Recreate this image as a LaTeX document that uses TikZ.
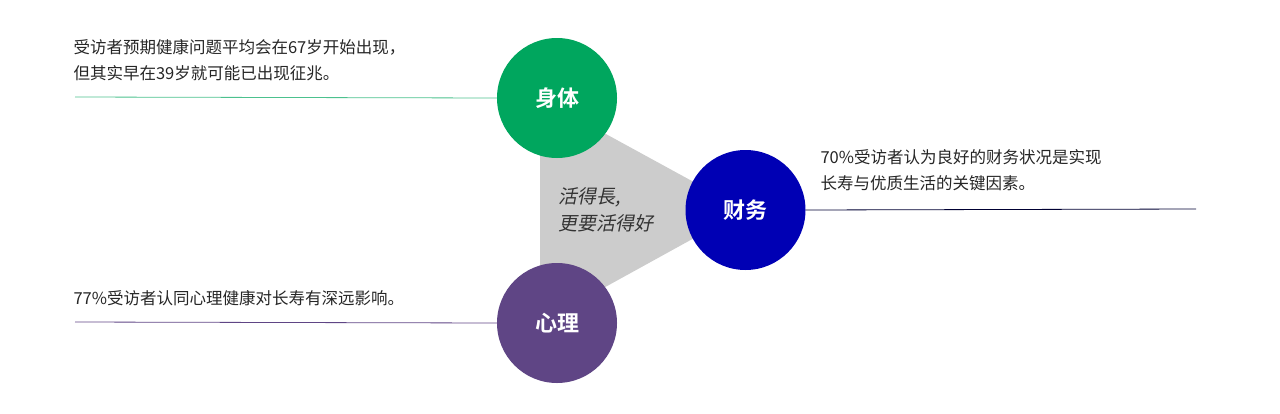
\documentclass[tikz,border=0pt]{standalone}
\usepackage{fontspec}
\setmainfont{Noto Sans CJK SC}
\newfontfamily\cjkb{Noto Sans CJK SC Bold}
\newfontfamily\cjki[FakeSlant=0.2]{Noto Sans CJK SC}
\definecolor{cgreen}{HTML}{00A65E}
\definecolor{cblue}{HTML}{0000B4}
\definecolor{cpurple}{HTML}{5F4585}
\definecolor{cgray}{HTML}{CCCCCC}
\begin{document}
\begin{tikzpicture}[x=1pt,y=-1pt,
  bub/.style={circle,minimum size=120pt,inner sep=0pt,text=white,font=\cjkb\fontsize{22}{26}\selectfont},
  txt/.style={anchor=west,align=left,font=\fontsize{16.5}{26}\selectfont,text=black!85},
  ln/.style={line width=0.8pt}]
\useasboundingbox (0,0) rectangle (1280,413);
\fill[cgray] (540,98) -- (745,210) -- (540,323) -- cycle;
\node[bub,fill=cgreen] (body) at (557,98) {身体};
\node[bub,fill=cblue] (fin) at (745.5,210) {财务};
\node[bub,fill=cpurple] (mind) at (557,323) {心理};
\node[anchor=west,align=left,font=\cjki\fontsize{19}{27}\selectfont,text=black!80] (c) at (555,210) {活得長,\\更要活得好};
\coordinate (g) at (75,97); \coordinate (p) at (75,322); \coordinate (b) at (1196,209);
\draw[ln,cgreen!70] (g) -- (body.west);
\draw[ln,cpurple] (p) -- (mind.west);
\draw[ln,black!80!blue] (fin.east) -- (b);
\node[txt] (t1) at (70,60) {受访者预期健康问题平均会在67岁开始出现，\\但其实早在39岁就可能已出现征兆。};
\node[txt] (t2) at (817,170) {70\%受访者认为良好的财务状况是实现\\长寿与优质生活的关键因素。};
\node[txt] (t3) at (70,298) {77\%受访者认同心理健康对长寿有深远影响。};
\end{tikzpicture}
\end{document}
